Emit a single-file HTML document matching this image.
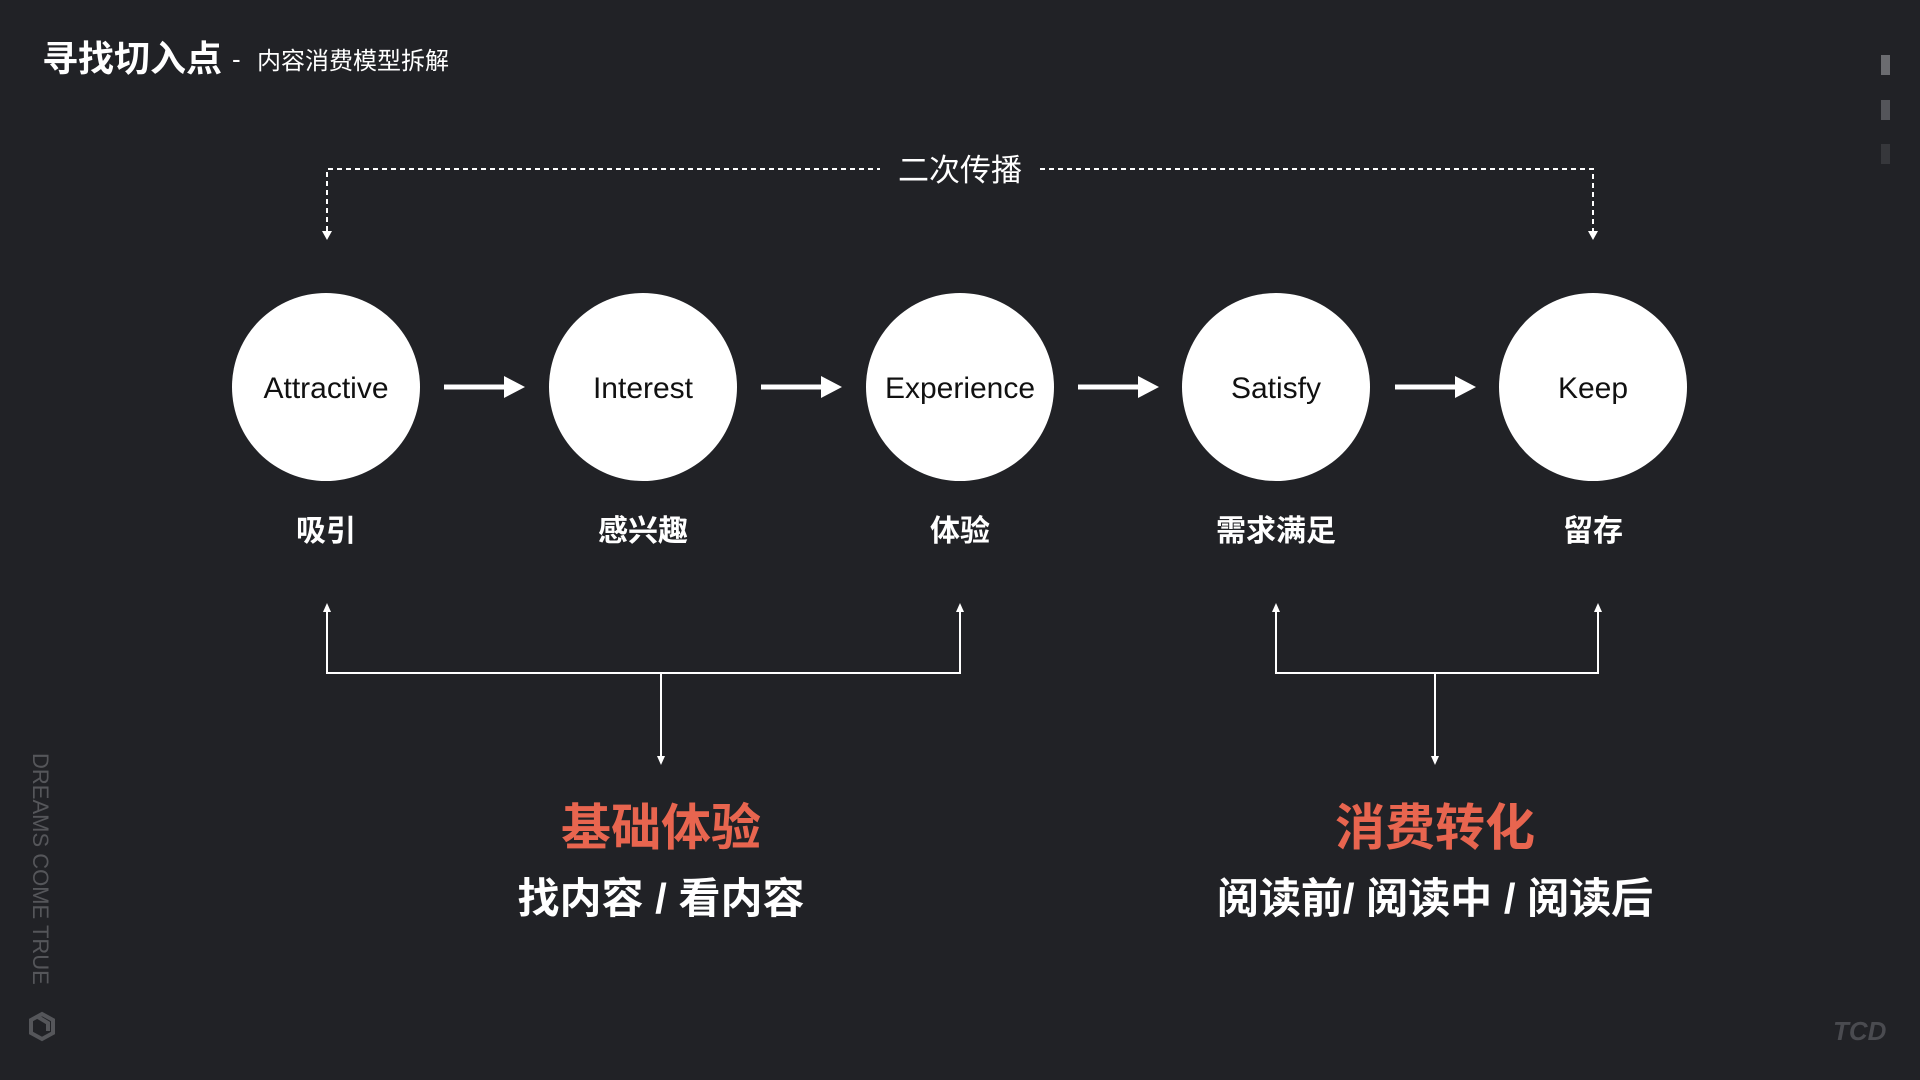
<!DOCTYPE html>
<html><head><meta charset="utf-8"><style>
html,body{margin:0;padding:0;background:#212226;}
svg{display:block;}
text{font-family:"Liberation Sans","Noto Sans CJK SC",sans-serif;}
</style></head><body>
<svg width="1920" height="1080" viewBox="0 0 1920 1080" xmlns="http://www.w3.org/2000/svg">
<rect width="1920" height="1080" fill="#212226"/>
<text x="42" y="71" font-size="36" font-weight="bold" fill="#fff">寻找切入点</text>
<text x="232" y="68" font-size="26" fill="#fff">-</text>
<text x="257" y="69" font-size="24" fill="#fff">内容消费模型拆解</text>
<rect x="1881" y="55" width="9" height="20" fill="#6b6c70"/>
<rect x="1881" y="100" width="9" height="20" fill="#54555a"/>
<rect x="1881" y="144" width="9" height="20" fill="#36373b"/>
<text transform="translate(33,753) rotate(90)" font-size="22" fill="#55565a">DREAMS COME TRUE</text>
<g transform="translate(42,1026)" fill="none" stroke="#55565a" stroke-width="4"><path d="M0,-12 L11,-6 L11,7 L0,13 L-11,7 L-11,-6 Z"/><path d="M-4,-9 L6,-3 L6,5"/></g>
<text x="1833" y="1040" font-size="26" font-style="italic" font-weight="bold" fill="#4a4b50">TCD</text>
<g stroke="#fff" stroke-width="2" stroke-dasharray="5,4" fill="none">
<path d="M327,231 V169 H880"/>
<path d="M1040,169 H1593 V231"/>
</g>
<polygon points="322,231 332,231 327,240" fill="#fff"/>
<polygon points="1588,231 1598,231 1593,240" fill="#fff"/>
<text x="960" y="181" font-size="31" fill="#fff" text-anchor="middle">二次传播</text>
<g fill="#fff">
<circle cx="326" cy="387" r="94"/><circle cx="643" cy="387" r="94"/><circle cx="960" cy="387" r="94"/><circle cx="1276" cy="387" r="94"/><circle cx="1593" cy="387" r="94"/>
</g>
<g font-size="30" fill="#111" text-anchor="middle">
<text x="326" y="398">Attractive</text><text x="643" y="398">Interest</text><text x="960" y="398">Experience</text><text x="1276" y="398">Satisfy</text><text x="1593" y="398">Keep</text>
</g>
<g stroke="#fff" stroke-width="5">
<line x1="444" y1="387" x2="508" y2="387"/><line x1="761" y1="387" x2="825" y2="387"/><line x1="1078" y1="387" x2="1142" y2="387"/><line x1="1395" y1="387" x2="1459" y2="387"/>
</g>
<g fill="#fff">
<polygon points="504,376 525,387 504,398"/><polygon points="821,376 842,387 821,398"/><polygon points="1138,376 1159,387 1138,398"/><polygon points="1455,376 1476,387 1455,398"/>
</g>
<g font-size="30" font-weight="bold" fill="#fff" text-anchor="middle">
<text x="326" y="541">吸引</text><text x="643" y="541">感兴趣</text><text x="960" y="541">体验</text><text x="1276" y="541">需求满足</text><text x="1593" y="541">留存</text>
</g>
<g stroke="#fff" stroke-width="2" fill="none">
<path d="M327,612 V673 H960 V612"/><path d="M661,673 V756"/>
<path d="M1276,612 V673 H1598 V612"/><path d="M1435,673 V756"/>
</g>
<g fill="#fff">
<polygon points="323,612 331,612 327,603"/><polygon points="956,612 964,612 960,603"/>
<polygon points="1272,612 1280,612 1276,603"/><polygon points="1594,612 1602,612 1598,603"/>
<polygon points="657,756 665,756 661,765"/><polygon points="1431,756 1439,756 1435,765"/>
</g>
<g text-anchor="middle" font-weight="bold">
<text x="661" y="845" font-size="50" fill="#e8654f">基础体验</text>
<text x="661" y="913" font-size="42" fill="#fff">找内容 / 看内容</text>
<text x="1435" y="845" font-size="50" fill="#e8654f">消费转化</text>
<text x="1435" y="913" font-size="42" fill="#fff">阅读前/ 阅读中 / 阅读后</text>
</g>
</svg>
</body></html>
